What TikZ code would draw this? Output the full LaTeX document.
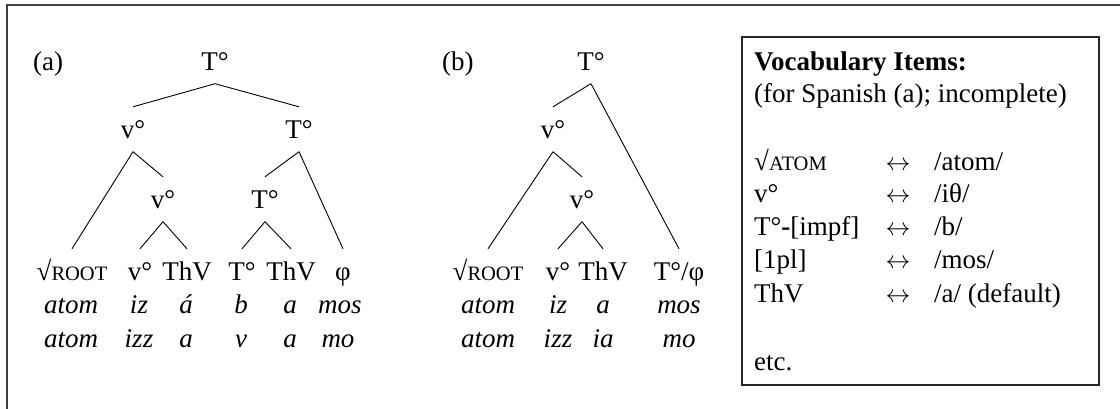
\documentclass[tikz,border=0pt]{standalone}
\usepackage{fontspec}
\setmainfont{Liberation Serif}
\newcommand\smcap[1]{{\fontsize{20.5}{24}\selectfont #1}}
\newcommand\lrarr{$\leftrightarrow$}
\begin{document}
\begin{tikzpicture}[x=1pt,y=-1pt, font=\fontsize{27}{33}\selectfont,
  tn/.style={anchor=base, inner xsep=0pt, inner ysep=13.5pt, text height=17.5pt, text depth=0pt},
  gl/.style={anchor=base, inner sep=0pt, font=\fontsize{27}{33}\selectfont\itshape},
  br/.style={line width=0.9pt},
  lab/.style={anchor=base west, inner sep=0pt},
  arr/.style={anchor=base, inner sep=0pt}]
\useasboundingbox (0,0) rectangle (1120,408);
% outer frame (only top and left visible)
\draw[line width=1.8pt, black!75] (7,430) -- (7,5) -- (1140,5);
% ---------- tree (a) ----------
\node[lab] (la) at (33,70) {(a)};
\node[tn] (aT) at (215,70) {T°};
\node[tn] (av) at (133,138) {v°};
\node[tn] (aT2) at (299,138) {T°};
\node[tn] (av2) at (163,208) {v°};
\node[tn] (aT3) at (265,208) {T°};
\node[tn] (aroot) at (72,280) {√\smcap{ROOT}};
\node[tn] (avl) at (140,280) {v°};
\node[tn] (ath1) at (187,280) {ThV};
\node[tn] (aTl) at (242,280) {T°};
\node[tn] (ath2) at (291,280) {ThV};
\node[tn] (aphi) at (343,280) {φ};
\draw[br] (aT.south) -- (av.north);
\draw[br] (aT.south) -- (aT2.north);
\draw[br] (av.south) -- (aroot.north);
\draw[br] (av.south) -- (av2.north);
\draw[br] (av2.south) -- (avl.north);
\draw[br] (av2.south) -- (ath1.north);
\draw[br] (aT2.south) -- (aT3.north);
\draw[br] (aT2.south) -- (aphi.north);
\draw[br] (aT3.south) -- (aTl.north);
\draw[br] (aT3.south) -- (ath2.north);
\node[gl] (a21) at (71,313) {atom};
\node[gl] (a22) at (139,313) {iz};
\node[gl] (a23) at (186,313) {á};
\node[gl] (a24) at (241,313) {b};
\node[gl] (a25) at (290,313) {a};
\node[gl] (a26) at (340,313) {mos};
\node[gl] (a31) at (71,347) {atom};
\node[gl] (a32) at (139,347) {izz};
\node[gl] (a33) at (186,347) {a};
\node[gl] (a34) at (241,347) {v};
\node[gl] (a35) at (290,347) {a};
\node[gl] (a36) at (338,347) {mo};
% ---------- tree (b) ----------
\node[lab] (lb) at (442,70) {(b)};
\node[tn] (bT) at (591,70) {T°};
\node[tn] (bv) at (553,138) {v°};
\node[tn] (bv2) at (582,208) {v°};
\node[tn] (broot) at (488,280) {√\smcap{ROOT}};
\node[tn] (bvl) at (558,280) {v°};
\node[tn] (bth) at (603,280) {ThV};
\node[tn] (bTphi) at (679,280) {T°/φ};
\draw[br] (bT.south) -- (bv.north);
\draw[br] (bT.south) -- (bTphi.north);
\draw[br] (bv.south) -- (broot.north);
\draw[br] (bv.south) -- (bv2.north);
\draw[br] (bv2.south) -- (bvl.north);
\draw[br] (bv2.south) -- (bth.north);
\node[gl] (b21) at (488,313) {atom};
\node[gl] (b22) at (558,313) {iz};
\node[gl] (b23) at (603,313) {a};
\node[gl] (b24) at (679,313) {mos};
\node[gl] (b31) at (488,347) {atom};
\node[gl] (b32) at (558,347) {izz};
\node[gl] (b33) at (603,347) {ia};
\node[gl] (b34) at (679,347) {mo};
% ---------- vocabulary box ----------
\draw[line width=1.4pt, black!85] (742,37) rectangle (1099,385);
\node[lab, font=\fontsize{27}{33}\selectfont\bfseries] (vt) at (754,70) {Vocabulary Items:};
\node[lab] (vs) at (754,102) {(for Spanish (a); incomplete)};
\node[lab] (k1) at (754,170) {√\smcap{ATOM}};
\node[arr] (r1) at (898,170) {\lrarr};
\node[lab] (v1) at (934,170) {/atom/};
\node[lab] (k2) at (754,202) {v°};
\node[arr] (r2) at (898,202) {\lrarr};
\node[lab] (v2) at (934,202) {/iθ/};
\node[lab] (k3) at (754,235) {T°\textbf{-}[impf]};
\node[arr] (r3) at (898,235) {\lrarr};
\node[lab] (v3) at (934,235) {/b/};
\node[lab] (k4) at (754,268) {[1pl]};
\node[arr] (r4) at (898,268) {\lrarr};
\node[lab] (v4) at (934,268) {/mos/};
\node[lab] (k5) at (754,302) {ThV};
\node[arr] (r5) at (898,302) {\lrarr};
\node[lab] (v5) at (934,302) {/a/ (default)};
\node[lab] (etc) at (754,370) {etc.};
\end{tikzpicture}
\end{document}
